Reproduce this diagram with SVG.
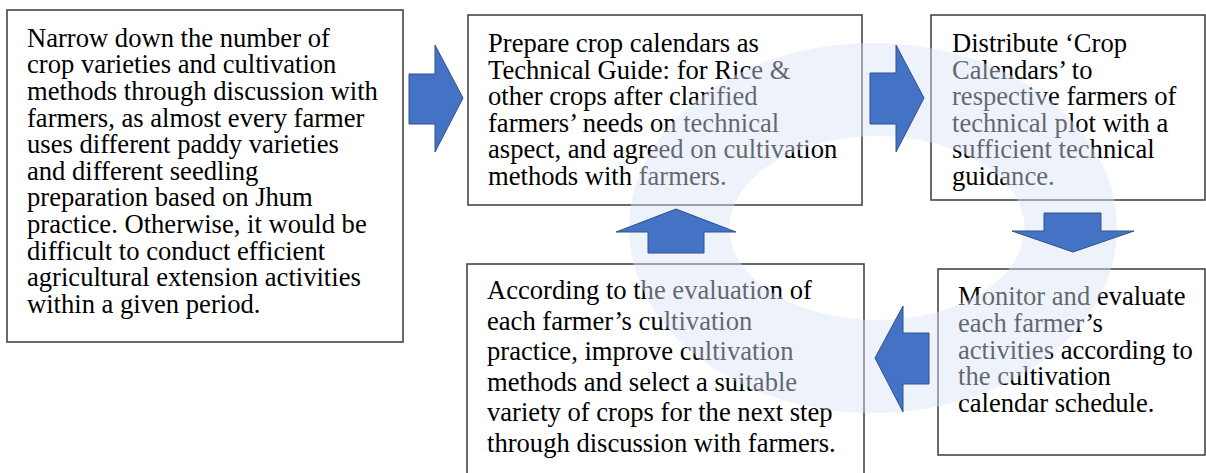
<svg xmlns="http://www.w3.org/2000/svg" width="1206" height="473" viewBox="0 0 1206 473">
<style>
.box{fill:#ffffff;stroke:#3a3a3a;stroke-width:1.5}
.t{font-family:"Liberation Serif","Times New Roman",serif;font-size:26.6px;fill:#000000}
.arr{fill:#4472c4;stroke:#2f528f;stroke-width:1}
.ring{fill:#dae3f3;fill-opacity:0.45;fill-rule:evenodd}
</style>
<rect width="1206" height="473" fill="#ffffff"/>
<g id="nodes">
<g id="n1">
<rect class="box" x="7" y="10" width="396" height="332"/>
<text class="t">
<tspan x="27" y="46.7">Narrow down the number of</tspan>
<tspan x="27" y="73.3">crop varieties and cultivation</tspan>
<tspan x="27" y="99.9">methods through discussion with</tspan>
<tspan x="27" y="126.5">farmers, as almost every farmer</tspan>
<tspan x="27" y="153.1">uses different paddy varieties</tspan>
<tspan x="27" y="179.7">and different seedling</tspan>
<tspan x="27" y="206.3">preparation based on Jhum</tspan>
<tspan x="27" y="232.9">practice. Otherwise, it would be</tspan>
<tspan x="27" y="259.5">difficult to conduct efficient</tspan>
<tspan x="27" y="286.1">agricultural extension activities</tspan>
<tspan x="27" y="312.7">within a given period.</tspan>
</text>
</g>
<g id="n2">
<rect class="box" x="468" y="15" width="394" height="190"/>
<text class="t">
<tspan x="488" y="52">Prepare crop calendars as</tspan>
<tspan x="488" y="78.6">Technical Guide: for Rice &amp;</tspan>
<tspan x="488" y="105.2">other crops after clarified</tspan>
<tspan x="488" y="131.8">farmers’ needs on technical</tspan>
<tspan x="488" y="158.4">aspect, and agreed on cultivation</tspan>
<tspan x="488" y="185">methods with farmers.</tspan>
</text>
</g>
<g id="n3">
<rect class="box" x="931" y="15" width="274" height="185"/>
<text class="t">
<tspan x="952" y="52">Distribute ‘Crop</tspan>
<tspan x="952" y="78.6">Calendars’ to</tspan>
<tspan x="952" y="105.2">respective farmers of</tspan>
<tspan x="952" y="131.8">technical plot with a</tspan>
<tspan x="952" y="158.4">sufficient technical</tspan>
<tspan x="952" y="185">guidance.</tspan>
</text>
</g>
<g id="n4">
<rect class="box" x="938" y="269" width="267" height="186"/>
<text class="t">
<tspan x="958" y="305">Monitor and evaluate</tspan>
<tspan x="958" y="331.75">each farmer’s</tspan>
<tspan x="958" y="358.5">activities according to</tspan>
<tspan x="958" y="385.25">the cultivation</tspan>
<tspan x="958" y="412">calendar schedule.</tspan>
</text>
</g>
<g id="n5">
<rect class="box" x="467" y="264" width="397" height="220"/>
<text class="t">
<tspan x="487" y="299">According to the evaluation of</tspan>
<tspan x="487" y="329.6">each farmer’s cultivation</tspan>
<tspan x="487" y="360.2">practice, improve cultivation</tspan>
<tspan x="487" y="390.8">methods and select a suitable</tspan>
<tspan x="487" y="421.4">variety of crops for the next step</tspan>
<tspan x="487" y="452">through discussion with farmers.</tspan>
</text>
</g>
</g>
<path class="ring" d="M629,228 A244,185 0 1,0 1117,228 A244,185 0 1,0 629,228 Z M729.5,228 A147.5,92 0 1,0 1024.5,228 A147.5,92 0 1,0 729.5,228 Z"/>
<g id="connectors">
<path class="arr" d="M409,74 H435 V45 L463,98 L435,152 V124 H409 Z"/>
<path class="arr" d="M870,73 H896 V45 L924,98 L896,152 V124 H870 Z"/>
<path class="arr" d="M1044,213 H1101 V231 H1134 L1073,252 L1012,231 H1044 Z"/>
<path class="arr" d="M929,333 V384 H903 V412 L875,358 L903,306 V333 Z"/>
<path class="arr" d="M648,253 V232 H616 L676,209 L736,232 H704 V253 Z"/>
</g>
</svg>
